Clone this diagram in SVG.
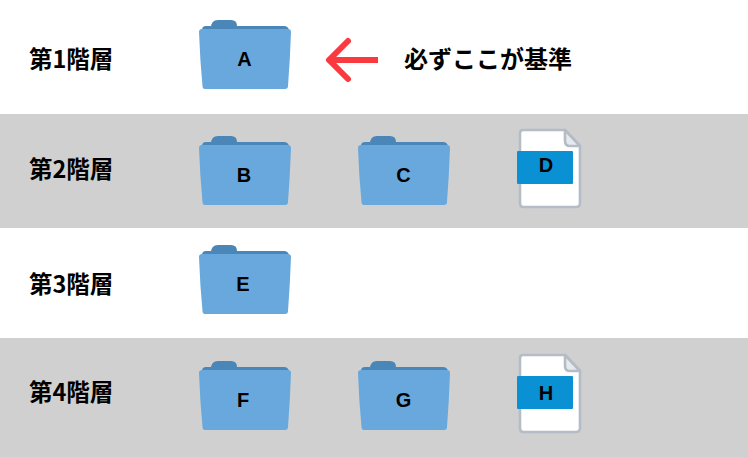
<svg xmlns="http://www.w3.org/2000/svg" width="748" height="457" viewBox="0 0 748 457">
<style>
.band{fill:#d0d0d0}
.lv{font:700 23.5px "Noto Sans CJK JP","Noto Sans",sans-serif;fill:#000}
.nm{font:700 20px "Liberation Sans",Arial,sans-serif;fill:#000;text-anchor:middle}
.note{font:700 24px "Noto Sans CJK JP",sans-serif;fill:#000}
</style>
<defs>
<g id="folder">
<path d="M211 28 Q211 20 218 20 H231 Q237 20 237 26 H284 Q288 26 289 30 H202 Q202 26 206 26 H211Z" fill="#4b86b8"/>
<path d="M202 29 H288 Q291 29 291 32 Q290 60 288 86 Q288 89 285 89 H205 Q202.500 89 202.500 86 Q200 60 199 32 Q199 29 202 29Z" fill="#69a8dc"/>
</g>
<g id="file">
<path d="M523 130 H565 L580 146 V203 Q580 207 576 207 H523 Q520 207 520 203 V133 Q520 130 523 130Z" fill="#fff" stroke="#b4bcc6" stroke-width="2.600" stroke-linejoin="round"/>
<path d="M565 130 V141 Q565 146 570 146 H580Z" fill="#e6e9ee" stroke="#b4bcc6" stroke-width="2.600" stroke-linejoin="round"/>
<rect x="517" y="151" width="56" height="33" rx="1" fill="#0a91d4"/>
</g>
</defs>
<rect width="748" height="457" fill="#fff"/>
<rect class="band" y="114" width="748" height="114"/>
<rect class="band" y="338" width="748" height="119"/>
<g id="level-labels">
<text class="lv" x="29" y="68">第1階層</text>
<text class="lv" x="29" y="178">第2階層</text>
<text class="lv" x="29" y="293">第3階層</text>
<text class="lv" x="29" y="401">第4階層</text>
</g>
<g id="node-a"><use href="#folder"/><text class="nm" x="244.500" y="66">A</text></g>
<g id="node-b"><use href="#folder" y="116"/><text class="nm" x="244" y="182">B</text></g>
<g id="node-c"><use href="#folder" x="159" y="116"/><text class="nm" x="403.500" y="182">C</text></g>
<g id="node-d"><use href="#file"/><text class="nm" x="546" y="172">D</text></g>
<g id="node-e"><use href="#folder" y="225"/><text class="nm" x="243" y="291">E</text></g>
<g id="node-f"><use href="#folder" y="341"/><text class="nm" x="243" y="407">F</text></g>
<g id="node-g"><use href="#folder" x="159" y="341"/><text class="nm" x="403.500" y="407">G</text></g>
<g id="node-h"><use href="#file" y="225"/><text class="nm" x="546" y="400">H</text></g>
<g id="connectors">
<path d="M378 60 H329" fill="none" stroke="#fb3a40" stroke-width="6"/>
<path d="M348 41 L329 60 L348 79" fill="none" stroke="#fb3a40" stroke-width="6" stroke-linecap="round" stroke-linejoin="round"/>
</g>
<text class="note" x="404" y="68">必ずここが基準</text>
</svg>
